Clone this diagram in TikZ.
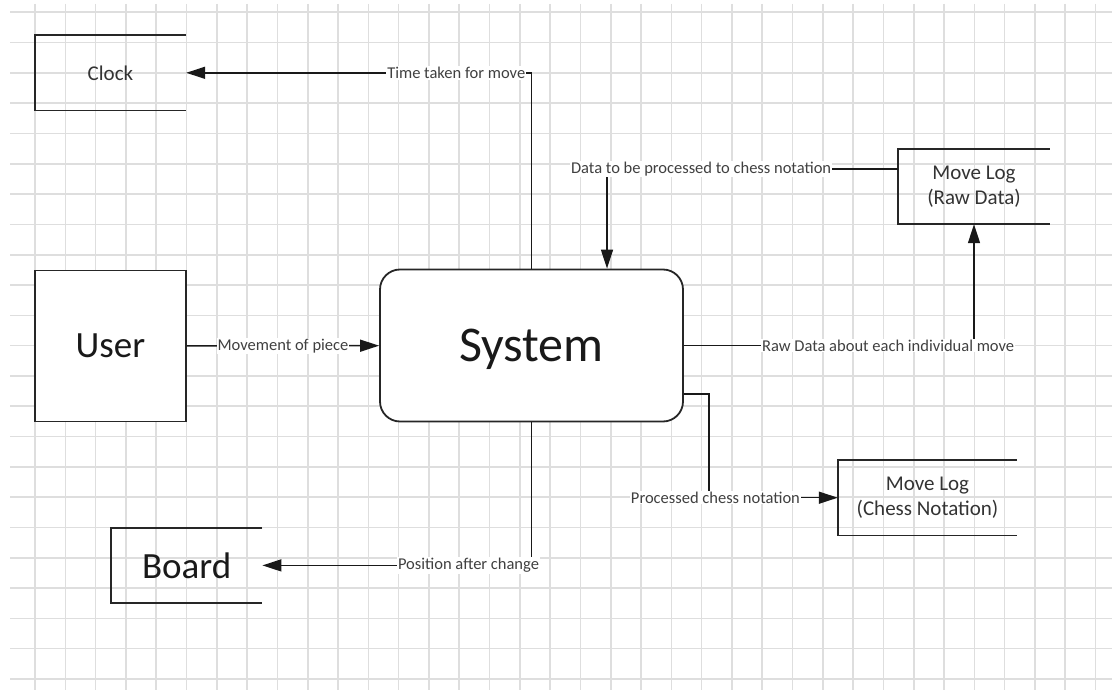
\documentclass[tikz,border=0pt]{standalone}
\usepackage{fontspec}
\setmainfont{Carlito}
\usetikzlibrary{arrows.meta}

\begin{document}
\begin{tikzpicture}[x=1pt,y=-1pt,
	gridline/.style={draw=black!13,line width=1.6pt},
	entity/.style={draw=black!85,fill=white,line width=1.8pt,text=black!90},
	store/.style={minimum width=151pt,minimum height=75pt,align=center,text=black!80,font=\fontsize{21}{25.5}\selectfont},
	storeline/.style={draw=black!85,line width=1.8pt},
	flow/.style={draw=black!90,line width=1.5pt,-{Triangle[length=19pt,width=12pt]}},
	lbl/.style={fill=white,inner sep=1pt,text=black!75,font=\fontsize{16.5}{19}\selectfont}]

	\useasboundingbox (0,0) rectangle (1112,690);
	\foreach \i in {0,...,35}
		\draw [gridline] (35+30.3*\i,4) -- (35+30.3*\i,690);
	\foreach \j in {0,...,22}
		\draw [gridline] (10,12.3+30.3*\j) -- (1112,12.3+30.3*\j);

	\node [store] (clock) at (110.5,72.8) {Clock};
	\node [store] (raw) at (974,186.5) {Move Log\\(Raw Data)};
	\node [store,minimum width=179pt] (chess) at (927.5,497.7) {Move Log\\(Chess Notation)};
	\node [store,text=black!90,font=\fontsize{37}{44}\selectfont] (board) at (186.7,565.4) {Board};
	\foreach \s in {clock,raw,chess,board}
		\draw [storeline] (\s.north east) -- (\s.north west) -- (\s.south west) -- (\s.south east);

	\node [entity,minimum width=151pt,minimum height=151pt,font=\fontsize{37}{44}\selectfont] (user) at (110.5,346) {User};
	\node [entity,rounded corners=20pt,minimum width=303pt,minimum height=152pt,text depth=0pt,font=\fontsize{50}{60}\selectfont] (sys) at (531.5,345.5) {System};

	\coordinate (bendP) at (709,497.7);

	\draw [flow] (user) -- node [lbl] {Movement of piece} (sys);
	\draw [flow] (sys.north) |- node [lbl,pos=0.609] {Time taken for move} (clock);
	\draw [flow] ([yshift=17.5pt]raw.west) -| node [lbl,pos=0.3385] {Data to be processed to chess notation} ([xshift=75.5pt]sys.north);
	\draw [flow] (sys.east) -| node [lbl,pos=0.352] {Raw Data about each individual move} (raw.south);
	\draw [flow] ([yshift=-48.5pt]sys.east) -| (bendP) -- node [lbl,pos=0.05] {Processed chess notation} (chess.west);
	\draw [flow] (sys.south) |- node [lbl,pos=0.617] {Position after change} (board);
\end{tikzpicture}
\end{document}
